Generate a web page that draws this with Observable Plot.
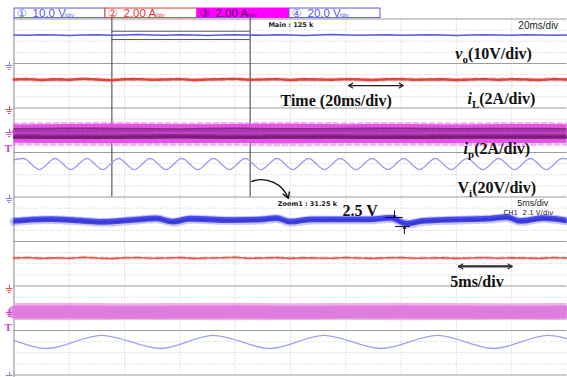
<!DOCTYPE html>
<html>
<head>
<meta charset="utf-8">
<script src="https://cdn.jsdelivr.net/npm/d3@7"></script>
<script src="https://cdn.jsdelivr.net/npm/@observablehq/plot@0.6"></script>
<style>
  html, body { margin: 0; padding: 0; background: #fff; }
  #scope svg { display: block; }
</style>
</head>
<body>
<div id="scope"></div>
<script>
// Oscilloscope screen: 10 horizontal divisions, 16 vertical divisions
// (main record window on top, zoom window underneath). Values are in divisions.

// ---- grid ----
const divCols = [1, 2, 3, 4, 5, 6, 7, 8, 9];
const panelRows = [0, 2, 4, 6, 8, 10, 12, 14, 16];
const minorRows = d3.range(0.5, 16, 0.5).filter(v => v % 2 !== 0);

// ---- channel header ----
const chanMarks = ["①", "②", "③", "④"];
const chanScales = ["10.0 V", "2.00 A", "2.00 A", "20.0 V"];
const chanEdges = [0.01, 1.655, 3.318, 4.982, 6.627];

// ---- main window (20 ms/div) ----
const tMain = d3.range(0, 10.001, 0.25);
const voMain = [0.72,0.73,0.71,0.72,0.74,0.72,0.71,0.73,0.72,0.70,0.72,0.73,0.71,0.72,0.74,0.72,0.71,0.72,0.73,0.71,0.72,0.74,0.72,0.70,0.72,0.73,0.72,0.71,0.73,0.72,0.71,0.72,0.74,0.72,0.71,0.72,0.73,0.71,0.72,0.73,0.72];
const iLMain = [2.72,2.70,2.74,2.71,2.73,2.69,2.72,2.75,2.71,2.70,2.73,2.72,2.70,2.74,2.72,2.71,2.69,2.73,2.72,2.70,2.74,2.71,2.72,2.73,2.70,2.72,2.74,2.71,2.70,2.73,2.72,2.71,2.74,2.72,2.70,2.73,2.71,2.72,2.74,2.70,2.72];
const tBand = [0, 1, 2, 3, 4, 5, 6, 7, 8, 9, 10];
const ipMainHi = [4.76,4.74,4.73,4.75,4.74,4.73,4.75,4.74,4.76,4.74,4.75];
const ipMainLo = [5.58,5.60,5.61,5.59,5.60,5.62,5.60,5.59,5.61,5.60,5.58];
const ipCoreHi = [4.92,4.90,4.91,4.93,4.90,4.92,4.91,4.90,4.92,4.91,4.92];
const ipCoreLo = [5.40,5.42,5.41,5.39,5.42,5.40,5.41,5.42,5.40,5.41,5.40];
const viMainX = [0,0.17,0.457,0.743,1.03,1.316,1.603,1.889,2.176,2.462,2.749,3.035,3.322,3.608,3.895,4.181,4.468,4.754,5.041,5.327,5.614,5.90,6.187,6.473,6.76,7.046,7.333,7.619,7.906,8.192,8.479,8.765,9.052,9.338,9.625,9.911,10];
const viMainY = [6.33,6.27,6.77,6.27,6.77,6.27,6.77,6.27,6.77,6.27,6.77,6.27,6.77,6.27,6.77,6.27,6.77,6.27,6.77,6.27,6.77,6.27,6.77,6.27,6.77,6.27,6.77,6.27,6.77,6.27,6.77,6.27,6.77,6.27,6.77,6.27,6.29];

// ---- zoom window (5 ms/div) ----
const voZoomX = [0,0.66,1.20,1.64,2.11,2.58,2.88,3.19,3.97,4.49,4.75,5.00,5.42,6.03,6.45,6.81,7.12,7.40,8.13,8.62,8.92,9.16,9.58,10];
const voZoomY = [9.10,9.02,9.08,9.14,9.06,8.98,9.13,9.00,9.06,9.03,8.97,9.13,9.03,9.03,9.03,8.96,9.22,9.10,9.03,8.99,8.93,9.10,8.97,9.08];
const iLZoom = [10.74,10.72,10.76,10.73,10.75,10.71,10.74,10.77,10.73,10.72,10.75,10.74,10.72,10.76,10.74,10.73,10.71,10.75,10.74,10.72,10.76,10.73,10.74,10.75,10.72,10.74,10.76,10.73,10.72,10.75,10.74,10.73,10.76,10.74,10.72,10.75,10.73,10.74,10.76,10.72,10.74];
const ipZoomHi = [12.79,12.78,12.80,12.79,12.78,12.80,12.79,12.78,12.79,12.80,12.79];
const ipZoomLo = [13.55,13.56,13.54,13.55,13.56,13.55,13.54,13.56,13.55,13.54,13.55];
const viZoomX = [0,0.60,1.58,2.66,3.60,4.64,5.60,6.64,7.66,8.67,9.66,10];
const viZoomY = [14.44,14.81,14.22,14.81,14.22,14.81,14.22,14.81,14.22,14.81,14.22,14.37];

// ---- channel reference markers (ground levels, trigger) ----
const gndBlue = [2.09, 8.07, 16.02];
const gndRed = [4.07, 12.11];
const gndMag = [5.10, 13.19];
const trigLevels = [5.84, 13.87];

// ---- annotations ----
const bigLabels = [
  {x: 7.98, y: 1.55, text: "v|o|(10V/div)"},
  {x: 8.20, y: 3.57, text: "i|L|(2A/div)"},
  {x: 8.13, y: 5.82, text: "i|p|(2A/div)"},
  {x: 8.02, y: 7.57, text: "V|i|(20V/div)"},
  {x: 4.82, y: 3.66, text: "Time (20ms/div)"},
  {x: 5.94, y: 8.61, text: "2.5 V"},
  {x: 7.89, y: 11.80, text: "5ms/div"}
];
// double-headed span arrows: centre and half-width, in divisions
const spans = [
  {x: 6.545, w: 0.495, y: 2.99},
  {x: 8.525, w: 0.485, y: 11.12}
];

const rows = (xs, ys) => xs.map((x, i) => ({x, y: ys[i]}));
const bands = (xs, lo, hi) => xs.map((x, i) => ({x, y1: lo[i], y2: hi[i]}));
const header = chanMarks.map((m, i) => ({m, s: chanScales[i], x1: chanEdges[i], x2: chanEdges[i + 1]}));
const headerColors = ["#5a5ae0", "#e23a3a", "#ff00ff", "#5a5ae0"];

const chart = Plot.plot({
  width: 567,
  height: 377,
  marginTop: 0, marginRight: 0, marginBottom: 0, marginLeft: 0,
  x: {domain: [0, 10], range: [13.5, 566.5], axis: null},
  y: {domain: [0, 16], range: [18.5, 374.5], axis: null},
  style: {background: "#fff", overflow: "visible"},
  marks: [
    // graticule
    Plot.ruleY(minorRows, {x1: 0, x2: 10, stroke: "#c6c6c6", strokeDasharray: "1,2"}),
    Plot.ruleX(divCols, {y1: 0, y2: 16, stroke: "#c6c6c6", strokeDasharray: "1,2"}),
    Plot.ruleY(panelRows, {x1: 0, x2: 10, stroke: "#9c9c9c", strokeWidth: 1.2}),
    Plot.ruleX([0], {y1: -0.05, y2: 16.2, stroke: "#9c9c9c", strokeWidth: 1.2}),

    // zoom window outline in the main record
    Plot.ruleX([1.77, 4.27], {y1: -0.05, y2: 8, stroke: "#3a3a3a"}),
    Plot.ruleY([0.55, 0.92], {x1: 1.77, x2: 4.27, stroke: "#5a5a5a"}),

    // main window traces
    Plot.line(rows(tMain, voMain), {x: "x", y: "y", stroke: "#5458e6", strokeWidth: 1.6}),
    Plot.line(rows(tMain, iLMain), {x: "x", y: "y", stroke: "#e8403c", strokeWidth: 2.4}),
    Plot.line(rows(tMain, iLMain), {x: "x", y: "y", stroke: "#e8403c", strokeWidth: 4.5, strokeDasharray: "1,2,1,5", strokeOpacity: 0.25}),
    Plot.areaY(bands(tBand, ipMainLo, ipMainHi), {x: "x", y1: "y1", y2: "y2", fill: "#e254e2", curve: "monotone-x"}),
    Plot.areaY(bands(tBand, ipCoreLo, ipCoreHi), {x: "x", y1: "y1", y2: "y2", fill: "#8e2a90", curve: "monotone-x"}),
    Plot.line(rows(tBand, ipCoreHi), {x: "x", y: "y", stroke: "#c83ec8", strokeWidth: 4, strokeDasharray: "2,1,1,3", dy: 3, strokeOpacity: 0.6}),
    Plot.line(rows(tBand, ipCoreLo), {x: "x", y: "y", stroke: "#d050d0", strokeWidth: 2, strokeDasharray: "3,2", dy: -6, strokeOpacity: 0.7}),
    Plot.line(rows(tBand, ipCoreLo), {x: "x", y: "y", stroke: "#6e146e", strokeWidth: 3, strokeDasharray: "1,2", dy: -2, strokeOpacity: 0.6}),
    Plot.line(rows(tBand, ipMainHi), {x: "x", y: "y", stroke: "#e254e2", strokeWidth: 3, strokeDasharray: "1,2,1,4", dy: -1, strokeOpacity: 0.45}),
    Plot.line(rows(tBand, ipMainLo), {x: "x", y: "y", stroke: "#e254e2", strokeWidth: 3, strokeDasharray: "1,4,1,2", dy: 1, strokeOpacity: 0.45}),
    Plot.line(rows(viMainX, viMainY), {x: "x", y: "y", stroke: "#9ca0f0", strokeWidth: 1.3, curve: "monotone-x"}),

    // zoom window traces
    Plot.areaY(rows(voZoomX, voZoomY), {x: "x", y1: d => d.y - 0.13, y2: d => d.y + 0.13, fill: "#5050ea", curve: "monotone-x"}),
    Plot.line(rows(voZoomX, voZoomY), {x: "x", y: "y", stroke: "#4a4ae8", strokeWidth: 9, strokeDasharray: "1,2,1,4", strokeOpacity: 0.3, curve: "monotone-x"}),
    Plot.line(rows(voZoomX, voZoomY), {x: "x", y: "y", stroke: "#2a2ad0", strokeWidth: 3, strokeDasharray: "1,1,1,2", strokeOpacity: 0.55, curve: "monotone-x"}),
    Plot.line(rows(tMain, iLZoom), {x: "x", y: "y", stroke: "#e8524e", strokeWidth: 1.6}),
    Plot.line(rows(tMain, iLZoom), {x: "x", y: "y", stroke: "#e8524e", strokeWidth: 4, strokeDasharray: "1,3,1,6", strokeOpacity: 0.25}),
    Plot.areaY(bands(tBand, ipZoomLo, ipZoomHi), {x: "x", y1: "y1", y2: "y2", fill: "#efaeef"}),
    Plot.line(rows(tBand, ipZoomHi), {x: "x", y: "y", stroke: "#d868d8", strokeWidth: 13, strokeDasharray: "1,2", dy: 8.5, strokeOpacity: 0.7}),
    Plot.line(rows(viZoomX, viZoomY), {x: "x", y: "y", stroke: "#9ea2f2", strokeWidth: 1.3, curve: "monotone-x"}),

    // ground and trigger markers at the left edge
    ...[["#7a7ae8", gndBlue], ["#e04848", gndRed], ["#d040d0", gndMag]].flatMap(([c, lv]) => [
      Plot.ruleY(lv, {x1: -0.14, x2: -0.02, stroke: c, strokeWidth: 1}),
      Plot.ruleY(lv, {x1: -0.12, x2: -0.04, stroke: c, strokeWidth: 1, dy: 2}),
      Plot.ruleY(lv, {x1: -0.10, x2: -0.06, stroke: c, strokeWidth: 1, dy: 4}),
      Plot.ruleX(lv, {x: -0.08, y1: d => d - 0.14, y2: d => d, stroke: c, strokeWidth: 1})
    ]),
    Plot.text(trigLevels, {x: -0.105, y: d => d, text: () => "T", fill: "#d040d0", fontSize: 11, fontWeight: "bold", fontFamily: "Liberation Serif"}),

    // channel header boxes
    ...header.map((h, i) => Plot.rect([h], {x1: "x1", x2: "x2", y1: -0.47, y2: -0.04,
      fill: i === 2 ? "#ff00ff" : "#fff", stroke: headerColors[i], strokeWidth: 1})),
    ...header.map((h, i) => Plot.text([h], {x: "x1", y: -0.25, text: d => d.m, dx: 2, textAnchor: "start",
      fill: i === 2 ? "#5a005a" : headerColors[i], fontSize: 11, fontFamily: "DejaVu Sans"})),
    ...header.map((h, i) => Plot.text([h], {x: "x1", y: -0.25, text: d => d.s, dx: 18, textAnchor: "start",
      fill: i === 2 ? "#5a005a" : headerColors[i], fontSize: 11.5, fontFamily: "Liberation Sans"})),
    ...header.map((h, i) => Plot.text([h], {x: "x1", y: -0.17, text: () => "/div", dx: 50, textAnchor: "start",
      fill: i === 2 ? "#5a005a" : headerColors[i], fontSize: 6, fontFamily: "Liberation Sans"})),

    // scope readouts
    Plot.text(["Main : 125 k"], {x: 4.60, y: 0.25, text: d => d, textAnchor: "start", fontSize: 6.5, fontWeight: "bold", fontFamily: "DejaVu Sans", fill: "#222"}),
    Plot.text(["20ms/div"], {x: 9.12, y: 0.29, text: d => d, textAnchor: "start", fontSize: 10, fontFamily: "Liberation Sans", fill: "#222"}),
    Plot.text(["Zoom1 : 31.25 k"], {x: 4.77, y: 8.29, text: d => d, textAnchor: "start", fontSize: 6.5, fontWeight: "bold", fontFamily: "DejaVu Sans", fill: "#222"}),
    Plot.text(["5ms/div"], {x: 9.10, y: 8.29, text: d => d, textAnchor: "start", fontSize: 9, fontFamily: "Liberation Sans", fill: "#222"}),
    Plot.text(["CH1  2.1 V/div"], {x: 8.85, y: 8.70, text: d => d, textAnchor: "start", fontSize: 7, fontFamily: "DejaVu Sans", fill: "#222"}),

    // hand annotations
    Plot.text(bigLabels, {x: "x", y: "y", text: "text", textAnchor: "start", fontSize: 16, fontWeight: "bold", fontFamily: "Liberation Serif", fill: "#111"}),
    Plot.arrow(spans, {x1: "x", x2: d => d.x - d.w, y1: "y", y2: "y", stroke: "#222", strokeWidth: 1.2, headLength: 6}),
    Plot.arrow(spans, {x1: "x", x2: d => d.x + d.w, y1: "y", y2: "y", stroke: "#222", strokeWidth: 1.2, headLength: 6}),
    Plot.ruleY(spans.slice(1), {y: "y", x1: d => d.x - d.w, x2: d => d.x + d.w, stroke: "#333", strokeWidth: 2.2}),
    Plot.arrow([{x1: 4.30, y1: 7.30, x2: 4.96, y2: 8.06}], {x1: "x1", y1: "y1", x2: "x2", y2: "y2", bend: 45, stroke: "#111", strokeWidth: 1.4, headLength: 7}),
    Plot.ruleY([8.92], {x1: 6.72, x2: 7.04, stroke: "#111"}),
    Plot.ruleY([9.33], {x1: 6.90, x2: 7.17, stroke: "#111"}),
    Plot.arrow([{x: 6.88, y1: 8.62, y2: 8.92}, {x: 7.06, y1: 9.65, y2: 9.33}], {x1: "x", x2: "x", y1: "y1", y2: "y2", stroke: "#111", strokeWidth: 1, headLength: 4})
  ]
});

// subscripts: "base|sub|rest"
d3.select(chart).selectAll("text").each(function () {
  const s = this.textContent;
  if (!s.includes("|")) return;
  const [base, sub, rest] = s.split("|");
  const t = d3.select(this).text(null);
  t.append("tspan").attr("font-style", base === base.toLowerCase() ? "italic" : "normal").text(base);
  t.append("tspan").attr("font-size", 11).attr("dy", 4).text(sub);
  t.append("tspan").attr("dy", -4).text(rest);
});

document.getElementById("scope").append(chart);
</script>
</body>
</html>
